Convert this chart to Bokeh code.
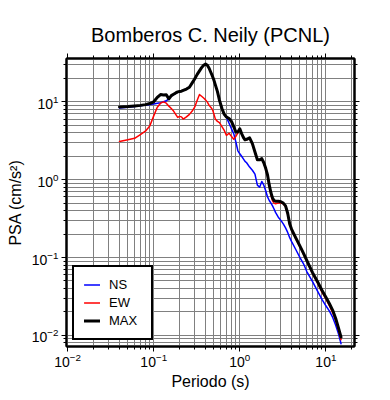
from bokeh.plotting import figure
from bokeh.models import (Legend, LegendItem, LogAxis, FixedTicker, Range1d,
                          ColumnDataSource, CustomJSTickFormatter, LogTickFormatter)
from bokeh.embed import file_html
from bokeh.resources import INLINE

# ---- data ----
periods = [0.04, 0.05, 0.06, 0.07, 0.08, 0.09, 0.10, 0.11, 0.12, 0.13, 0.14, 0.15,
           0.16, 0.17, 0.18, 0.19, 0.20, 0.21, 0.22, 0.24, 0.26, 0.28, 0.30, 0.32,
           0.34, 0.36, 0.38, 0.40, 0.42, 0.44, 0.46, 0.48, 0.50, 0.52, 0.55, 0.58,
           0.62, 0.66, 0.70, 0.75, 0.80, 0.85, 0.90, 0.95, 1.0, 1.05, 1.1, 1.15,
           1.2, 1.3, 1.4, 1.5, 1.6, 1.7, 1.8, 1.9, 2.0, 2.1, 2.2, 2.3, 2.4, 2.5,
           2.6, 2.8, 3.0, 3.2, 3.4, 3.6, 3.8, 4.0, 4.5, 5.0, 5.5, 6.0, 7.0, 8.0,
           9.0, 10.0, 11.0, 12.0, 13.0, 14.0, 15.0]

psa_ns = [8.35, 8.5, 8.7, 8.9, 9.1, 9.2, 9.4, 9.6, 9.75, 10.0, 10.3, 11.0,
          11.8, 12.4, 12.8, 13.3, 13.6, 13.7, 14.0, 14.6, 15.4, 17.5, 19.8, 22.5,
          25.0, 27.5, 29.5, 30.5, 29.5, 27.0, 24.0, 21.5, 19.0, 16.5, 13.5, 10.5,
          8.2, 6.8, 6.3, 5.3, 4.5, 3.9, 3.05, 2.35, 2.15, 2.0, 1.85, 1.72,
          1.65, 1.45, 1.32, 1.18, 0.85, 0.80, 0.95, 0.85, 0.72, 0.60, 0.54, 0.50, 0.46, 0.42,
          0.38, 0.33, 0.30, 0.27, 0.24, 0.21, 0.18, 0.16, 0.125, 0.10, 0.083, 0.066, 0.049, 0.037,
          0.029, 0.024, 0.0205, 0.017, 0.0135, 0.0105, 0.0078]

psa_ew = [3.1, 3.25, 3.4, 3.8, 4.2, 4.9, 6.6, 8.5, 9.6, 10.0, 9.6, 8.8,
          8.2, 7.6, 6.9, 6.3, 6.5, 6.4, 6.0, 6.4, 6.9, 7.6, 8.6, 10.5,
          12.4, 11.8, 11.2, 10.6, 9.9, 9.0, 8.5, 8.0, 7.0, 6.0, 5.6, 5.4,
          4.8, 4.3, 3.7, 3.95, 3.6, 3.3, 3.6, 4.0, 4.4, 3.85, 3.45, 3.2,
          3.25, 3.4, 2.85, 2.25, 1.78, 1.78, 1.84, 1.63, 1.38, 1.13, 0.83, 0.64, 0.53, 0.50,
          0.49, 0.50, 0.50, 0.49, 0.45, 0.36, 0.265, 0.225, 0.172, 0.137, 0.11, 0.09, 0.062, 0.047,
          0.036, 0.0295, 0.024, 0.0195, 0.0155, 0.0118, 0.0088]

psa_max = [8.6, 8.7, 8.85, 9.0, 9.2, 9.5, 10.0, 11.4, 12.4, 12.2, 12.3, 10.9,
           12.0, 12.5, 13.0, 13.4, 13.6, 13.7, 14.0, 14.6, 15.4, 17.5, 19.8, 22.5,
           25.0, 27.5, 29.5, 30.5, 29.5, 27.0, 24.0, 21.5, 19.0, 16.5, 13.5, 10.5,
           8.2, 6.9, 6.4, 6.1, 5.6, 4.8, 4.1, 4.1, 4.5, 3.9, 3.5, 3.25,
           3.3, 3.45, 2.9, 2.27, 1.8, 1.8, 1.86, 1.65, 1.40, 1.15, 0.85, 0.68, 0.58, 0.54,
           0.53, 0.53, 0.52, 0.50, 0.46, 0.37, 0.27, 0.23, 0.176, 0.14, 0.113, 0.092, 0.064, 0.049,
           0.038, 0.031, 0.0255, 0.021, 0.0165, 0.0125, 0.0095]

series_names = ["NS", "EW", "MAX"]
series_colors = ["#0000ff", "#ff0000", "#000000"]
series_widths = [1.5, 1.5, 3]

decades = [0.001, 0.01, 0.1, 1, 10, 100]
major_x = [0.01, 0.1, 1, 10]
major_y = [0.01, 0.1, 1, 10]

title_text = "Bomberos C. Neily (PCNL)"
x_label = "Periodo (s)"
y_label = "PSA (cm/s\u00b2)"

FONT = "Liberation Sans"

minor = [m * d for d in decades for m in range(2, 10)]

p = figure(x_axis_type="log", y_axis_type="log",
           x_range=Range1d(0.0097, 21.5), y_range=Range1d(0.0072, 36),
           frame_width=288, frame_height=288,
           min_border_left=66, min_border_right=34,
           min_border_top=58, min_border_bottom=53,
           output_backend="svg", toolbar_location=None)
p.title.text = title_text
p.title.text_font = FONT
p.title.text_font_size = "20px"
p.title.text_font_style = "normal"
p.title.text_color = "black"
p.title.align = "center"
p.title.standoff = 15

p.background_fill_color = "white"
p.border_fill_color = "white"
p.outline_line_color = "black"
p.outline_line_width = 2

src = ColumnDataSource(dict(t=periods, ns=psa_ns, ew=psa_ew, mx=psa_max))
renderers = []
for key, col, w in zip(["ns", "ew", "mx"], series_colors, series_widths):
    r = p.line("t", key, source=src, line_color=col, line_width=w,
               line_join="round", line_cap="round")
    renderers.append(r)

xt = FixedTicker(ticks=major_x, minor_ticks=minor)
yt = FixedTicker(ticks=major_y, minor_ticks=minor)

blank_fmt = CustomJSTickFormatter(code="return '';")

bottom_ax = p.below[0]
left_ax = p.left[0]
bottom_ax.ticker = xt
left_ax.ticker = yt
bottom_ax.formatter = LogTickFormatter()
left_ax.formatter = LogTickFormatter()
bottom_ax.axis_label = x_label
left_ax.axis_label = y_label

top_ax = LogAxis(ticker=xt, formatter=blank_fmt)
right_ax = LogAxis(ticker=yt, formatter=blank_fmt)
p.add_layout(top_ax, "above")
p.add_layout(right_ax, "right")

for ax in [bottom_ax, left_ax, top_ax, right_ax]:
    ax.axis_line_color = "black"
    ax.axis_line_width = 2
    ax.major_tick_line_color = "black"
    ax.minor_tick_line_color = "black"
    ax.major_tick_line_width = 1
    ax.minor_tick_line_width = 1
    ax.major_tick_out = 5
    ax.major_tick_in = 0
    ax.minor_tick_out = 3
    ax.minor_tick_in = 0
    ax.major_label_text_font = FONT
    ax.major_label_text_font_size = "14px"
    ax.major_label_text_color = "black"
    ax.axis_label_text_font = FONT
    ax.axis_label_text_font_size = "16px"
    ax.axis_label_text_font_style = "normal"
    ax.axis_label_text_color = "black"

for ax in [top_ax, right_ax]:
    ax.major_label_standoff = 0

bottom_ax.major_label_standoff = 1
left_ax.major_label_standoff = 3
bottom_ax.axis_label_standoff = 3
left_ax.axis_label_standoff = 5

for g in [p.xgrid[0], p.ygrid[0]]:
    g.grid_line_color = "#808080"
    g.grid_line_width = 1
    g.minor_grid_line_color = "#808080"
    g.minor_grid_line_width = 1

legend = Legend(items=[LegendItem(label=n, renderers=[r])
                       for n, r in zip(series_names, renderers)],
                location=(6, 6))
legend.border_line_color = "black"
legend.border_line_alpha = 1
legend.border_line_width = 2
legend.background_fill_color = "white"
legend.background_fill_alpha = 1
legend.label_text_font = FONT
legend.label_text_font_size = "13px"
legend.label_text_color = "black"
legend.glyph_width = 16
legend.glyph_height = 15
legend.label_height = 15
legend.label_width = 32
legend.label_standoff = 9
legend.spacing = 3
legend.padding = 10
legend.margin = 0
p.add_layout(legend)

open("out.html", "w").write(file_html(p, INLINE))
